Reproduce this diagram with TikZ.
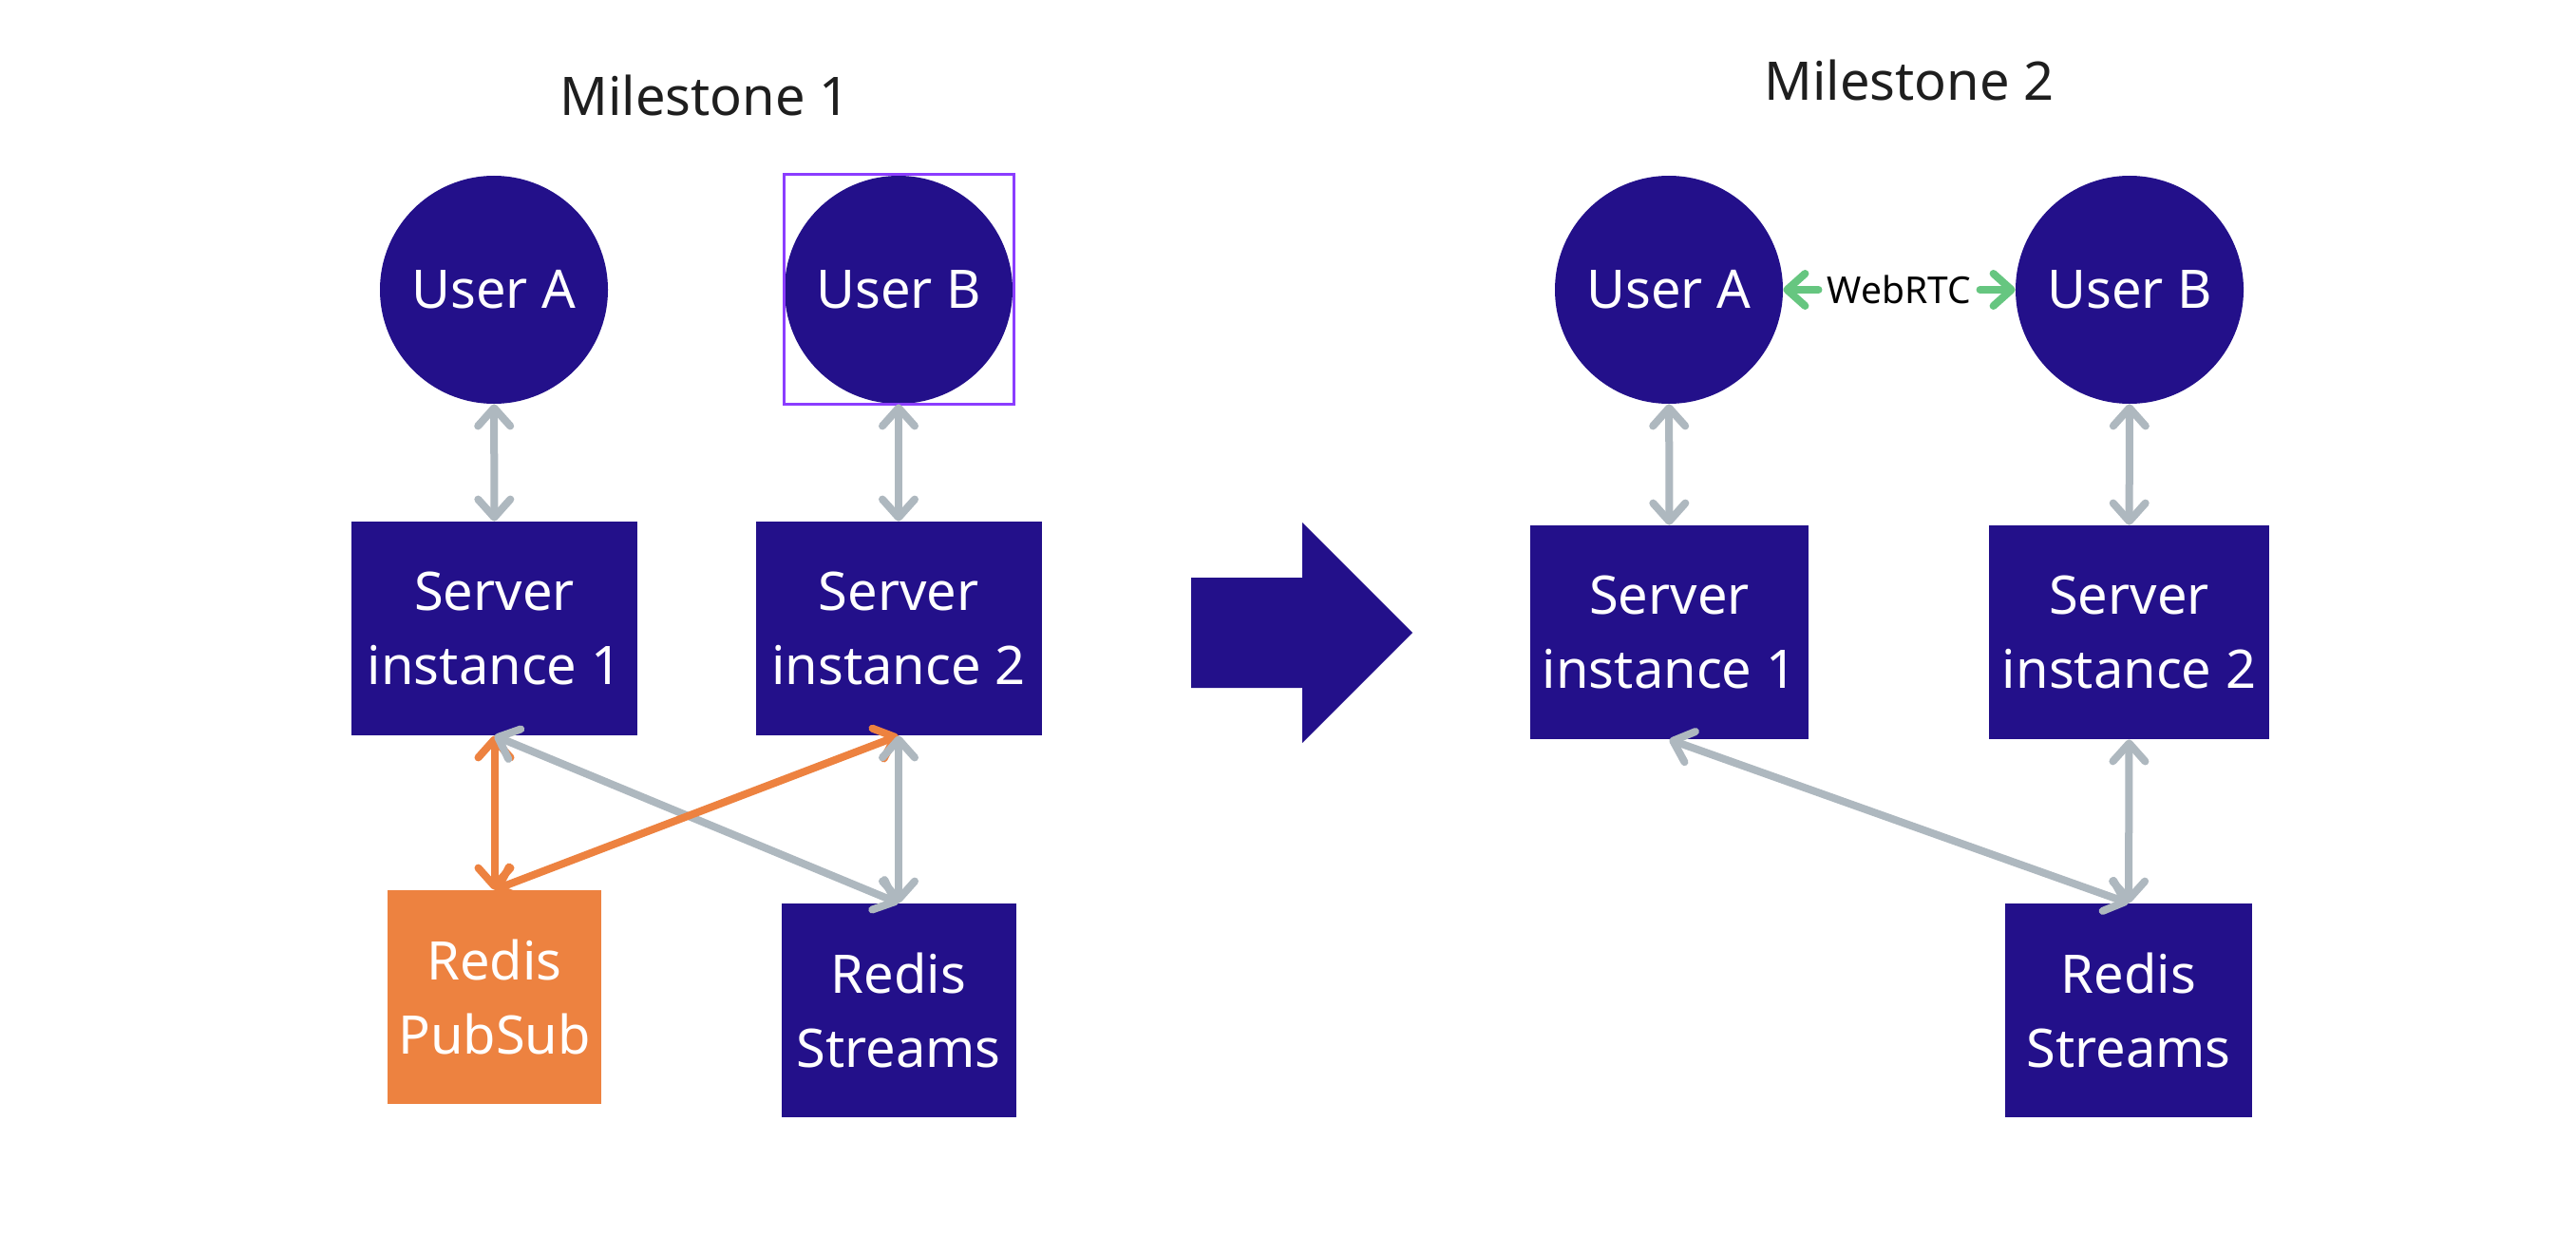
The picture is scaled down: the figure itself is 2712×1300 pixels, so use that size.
\documentclass[tikz,border=0pt]{standalone}
\usepackage{fontspec}
\setmainfont{Noto Sans}
\usetikzlibrary{arrows.meta}
\definecolor{navy}{HTML}{23108A}
\definecolor{orng}{HTML}{ED8240}
\definecolor{gry}{HTML}{AEB8BF}
\definecolor{grn}{HTML}{66C680}
\definecolor{selc}{HTML}{8B3DFF}
\definecolor{ttl}{HTML}{1E1E1E}
\tikzset{
  user/.style={circle, fill=navy, minimum size=120pt, inner sep=0pt, text=white,
    font=\fontsize{28pt}{39pt}\selectfont},
  box/.style={rectangle, fill=navy, inner sep=0pt, text=white, align=center,
    font=\fontsize{28pt}{39pt}\selectfont, minimum height=112.5pt},
  tip/.tip={Straight Barb[length=9.5pt,width=17pt,round]},
  conn/.style={line width=4pt, line cap=round, {tip}-{tip}},
  gconn/.style={line width=4pt, line cap=round, draw=grn, -{tip}},
  title/.style={text=ttl, font=\fontsize{28pt}{34pt}\selectfont, anchor=base, inner sep=0pt},
}
\begin{document}
\begin{tikzpicture}[x=0.5pt,y=-0.5pt]
\useasboundingbox[fill=white] (0,0) rectangle (2712,1300);

% titles
\node[title] (t1) at (742,122) {Milestone 1};
\node[title] (t2) at (2010,106) {Milestone 2};

% ---------- Milestone 1 ----------
\node[user] (ua1) at (520,305) {User A};
\node[user] (ub1) at (946,305) {User B};
\node[draw=selc, line width=1.5pt, minimum size=121pt, inner sep=0pt] (selbox) at (946,304.5) {};
\node[box, minimum width=150.5pt] (s1) at (520.5,661.5) {Server\\instance 1};
\node[box, minimum width=150.5pt] (s2) at (946,661.5) {Server\\instance 2};
\node[box, fill=orng, minimum width=112.5pt] (ps) at (520.5,1049.5) {Redis\\PubSub};
\node[box, minimum width=123.5pt] (rs1) at (946,1063.5) {Redis\\Streams};

\draw[conn, draw=gry] (ua1) -- (s1);
\draw[conn, draw=gry] (ub1) -- (s2);
\draw[conn, draw=orng] (s1.south) -- (ps.north);
\draw[conn, draw=gry] (s1.south) -- (rs1.north);
\draw[conn, draw=orng] (ps.north) -- (s2.south);
\draw[conn, draw=gry] (s2.south) -- (rs1.north);

% ---------- big arrow ----------
\fill[navy] (1254,608) -- (1371,608) -- (1371,550) -- (1487,666) -- (1371,782)
  -- (1371,724) -- (1254,724) -- cycle;

% ---------- Milestone 2 ----------
\node[user] (ua2) at (1757,305) {User A};
\node[user] (ub2) at (2242,305) {User B};
\node[box, minimum width=146.5pt] (s3) at (1757.5,665.5) {Server\\instance 1};
\node[box, minimum width=147.5pt] (s4) at (2241.5,665.5) {Server\\instance 2};
\node[box, minimum width=130pt] (rs2) at (2241,1063.5) {Redis\\Streams};

\node[font=\fontsize{19.5pt}{22pt}\selectfont, inner xsep=4.5pt, inner ysep=0pt] (web) at (1999.5,305) {WebRTC};
\draw[gconn] (web.west) -- (ua2.east);
\draw[gconn] (web.east) -- (ub2.west);

\draw[conn, draw=gry] (ua2) -- (s3);
\draw[conn, draw=gry] (ub2) -- (s4);
\draw[conn, draw=gry] (s3.south) -- (rs2.north);
\draw[conn, draw=gry] (s4.south) -- (rs2.north);
\end{tikzpicture}
\end{document}
